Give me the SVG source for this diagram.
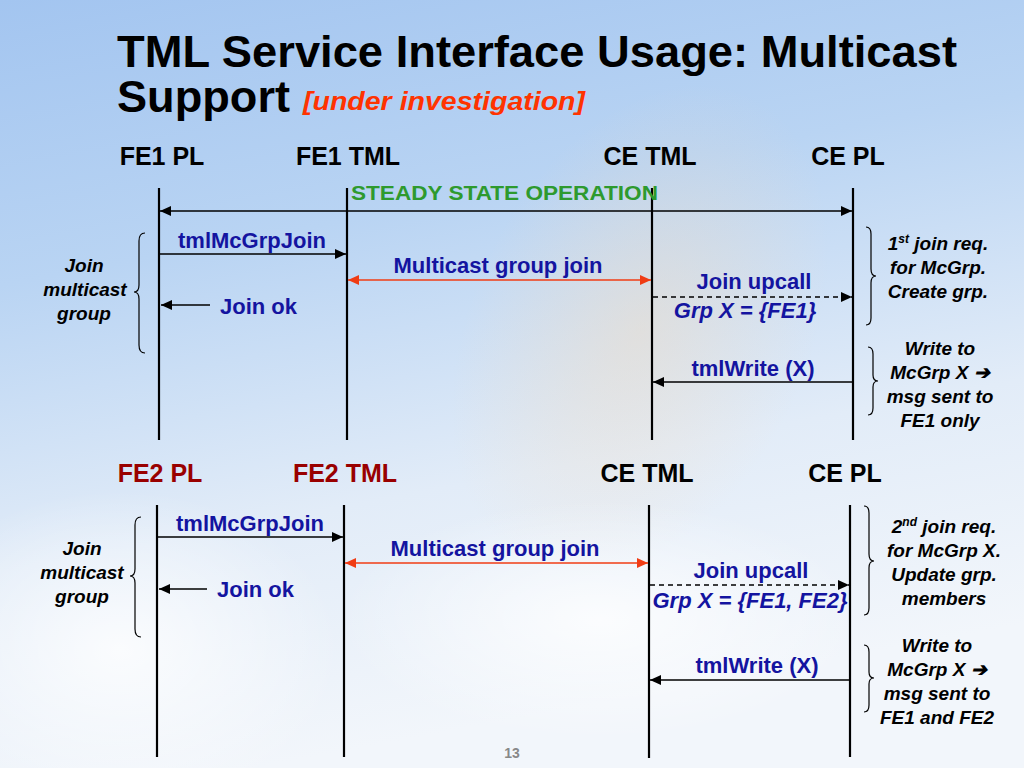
<svg xmlns="http://www.w3.org/2000/svg" width="1024" height="768" viewBox="0 0 1024 768">
<defs>
<linearGradient id="bg" x1="0" y1="0" x2="0.25" y2="1">
<stop offset="0" stop-color="#a3c5f0"/>
<stop offset="0.35" stop-color="#b9d4f3"/>
<stop offset="0.7" stop-color="#e2ecf8"/>
<stop offset="1" stop-color="#f2f6fb"/>
</linearGradient>
<radialGradient id="warm" cx="0.5" cy="0.5" r="0.5">
<stop offset="0" stop-color="#f3dcc0" stop-opacity="0.45"/>
<stop offset="1" stop-color="#f3dcc0" stop-opacity="0"/>
</radialGradient>
<radialGradient id="white" cx="0.5" cy="0.5" r="0.5">
<stop offset="0" stop-color="#ffffff" stop-opacity="0.8"/>
<stop offset="1" stop-color="#ffffff" stop-opacity="0"/>
</radialGradient>
<marker id="ah" markerUnits="userSpaceOnUse" markerWidth="12" markerHeight="10" refX="11" refY="5" orient="auto-start-reverse">
<path d="M0,0 L11,5 L0,10 Z" fill="#000"/>
</marker>
<marker id="ahr" markerUnits="userSpaceOnUse" markerWidth="12" markerHeight="10" refX="11" refY="5" orient="auto-start-reverse">
<path d="M0,0 L11,5 L0,10 Z" fill="#f03c14"/>
</marker>
<style>
.life{stroke:#000;stroke-width:2.2;fill:none}
.msg{stroke:#000;stroke-width:1.4;fill:none;marker-end:url(#ah)}
.dash{stroke:#000;stroke-width:1.4;fill:none;stroke-dasharray:5,4;marker-end:url(#ah)}
.red{stroke:#f03c14;stroke-width:1.6;fill:none;marker-end:url(#ahr);marker-start:url(#ahr)}
.both{stroke:#000;stroke-width:1.4;fill:none;marker-end:url(#ah);marker-start:url(#ah)}
.brace{stroke:#000;stroke-width:1.2;fill:none}
text{font-family:"Liberation Sans",Arial,sans-serif;font-weight:bold}
.title{font-size:44px;fill:#000}
.hdr{font-size:25px;fill:#000;text-anchor:middle}
.hdr2{font-size:25px;fill:#990000;text-anchor:middle}
.lbl{font-size:22px;fill:#1414a0}
.lblc{font-size:22px;fill:#1414a0;text-anchor:middle}
.lbli{font-size:22px;fill:#1414a0;text-anchor:middle;font-style:italic}
.note{font-size:19px;fill:#000;font-style:italic;text-anchor:middle}
</style>
</defs>
<rect x="0" y="0" width="1024" height="768" fill="url(#bg)"/>
<ellipse cx="640" cy="330" rx="170" ry="260" fill="url(#warm)" transform="rotate(25 640 330)"/>
<ellipse cx="120" cy="650" rx="220" ry="160" fill="url(#white)"/>
<ellipse cx="600" cy="620" rx="260" ry="120" fill="url(#white)"/>

<g id="title">
<text class="title" x="117" y="67" textLength="840" lengthAdjust="spacingAndGlyphs">TML Service Interface Usage: Multicast</text>
<text class="title" x="117" y="112" textLength="173" lengthAdjust="spacingAndGlyphs">Support</text>
<text x="303" y="110" font-size="26" font-style="italic" fill="#ff3300" textLength="282" lengthAdjust="spacingAndGlyphs">[under investigation]</text>
</g>

<g id="fe1pl"><text class="hdr" x="162" y="165">FE1 PL</text><line class="life" x1="159" y1="188" x2="159" y2="440"/></g>
<g id="fe1tml"><text class="hdr" x="348" y="165">FE1 TML</text><line class="life" x1="347" y1="188" x2="347" y2="440"/></g>
<g id="cetml1"><text class="hdr" x="650" y="165">CE TML</text><line class="life" x1="652" y1="188" x2="652" y2="440"/></g>
<g id="cepl1"><text class="hdr" x="848" y="165">CE PL</text><line class="life" x1="853" y1="188" x2="853" y2="440"/></g>

<g id="fe2pl"><text class="hdr2" x="160" y="482">FE2 PL</text><line class="life" x1="157" y1="505" x2="157" y2="757"/></g>
<g id="fe2tml"><text class="hdr2" x="345" y="482">FE2 TML</text><line class="life" x1="344" y1="505" x2="344" y2="757"/></g>
<g id="cetml2"><text class="hdr" x="647" y="482">CE TML</text><line class="life" x1="649" y1="505" x2="649" y2="758"/></g>
<g id="cepl2"><text class="hdr" x="845" y="482">CE PL</text><line class="life" x1="850" y1="505" x2="850" y2="757"/></g>

<g id="connectors">
<line class="both" x1="160" y1="211" x2="852" y2="211"/>
<line class="msg" x1="160" y1="254" x2="346" y2="254"/>
<line class="red" x1="348" y1="280" x2="651" y2="280"/>
<line class="msg" x1="210" y1="305" x2="161" y2="305"/>
<line class="dash" x1="653" y1="297" x2="852" y2="297"/>
<line class="msg" x1="852" y1="382" x2="653" y2="382"/>

<line class="msg" x1="158" y1="537" x2="343" y2="537"/>
<line class="red" x1="345" y1="563" x2="648" y2="563"/>
<line class="msg" x1="207" y1="589" x2="159" y2="589"/>
<line class="dash" x1="650" y1="585" x2="849" y2="585"/>
<line class="msg" x1="849" y1="680" x2="650" y2="680"/>
</g>

<g id="labels1">
<text x="351" y="200" font-size="21" fill="#2e9a2e" textLength="307" lengthAdjust="spacingAndGlyphs">STEADY STATE OPERATION</text>
<text class="lblc" x="252" y="248">tmlMcGrpJoin</text>
<text class="lblc" x="498" y="273">Multicast group join</text>
<text class="lbl" x="220" y="314">Join ok</text>
<text class="lblc" x="754" y="289">Join upcall</text>
<text class="lbli" x="745" y="318">Grp X = {FE1}</text>
<text class="lblc" x="753" y="376">tmlWrite (X)</text>
</g>

<g id="labels2">
<text class="lblc" x="250" y="531">tmlMcGrpJoin</text>
<text class="lblc" x="495" y="556">Multicast group join</text>
<text class="lbl" x="217" y="597">Join ok</text>
<text class="lblc" x="751" y="578">Join upcall</text>
<text class="lbli" x="750" y="608">Grp X = {FE1, FE2}</text>
<text class="lblc" x="757" y="673">tmlWrite (X)</text>
</g>

<g id="note-join1">
<path class="brace" d="M145,233 Q139,233 139,241 L139,285 Q139,292 134,292 Q139,292 139,299 L139,345 Q139,353 145,353"/>
<text class="note" x="84" y="272">Join</text>
<text class="note" x="85" y="296">multicast</text>
<text class="note" x="84" y="320">group</text>
</g>
<g id="note-first">
<path class="brace" d="M866,227 Q871,227 871,234 L871,269 Q871,276 876,276 Q871,276 871,283 L871,318 Q871,325 866,325"/>
<text class="note" x="938" y="250">1<tspan font-size="12" dy="-7">st</tspan><tspan dy="7"> join req.</tspan></text>
<text class="note" x="938" y="274">for McGrp.</text>
<text class="note" x="938" y="298">Create grp.</text>
</g>
<g id="note-write1">
<path class="brace" d="M868,347 Q873,347 873,354 L873,375 Q873,381 878,381 Q873,381 873,387 L873,408 Q873,415 868,415"/>
<text class="note" x="940" y="355">Write to</text>
<text class="note" x="940" y="379">McGrp X ➔</text>
<text class="note" x="940" y="403">msg sent to</text>
<text class="note" x="940" y="427">FE1 only</text>
</g>

<g id="note-join2">
<path class="brace" d="M141,517 Q135,517 135,525 L135,569 Q135,576 130,576 Q135,576 135,583 L135,629 Q135,637 141,637"/>
<text class="note" x="82" y="555">Join</text>
<text class="note" x="82" y="579">multicast</text>
<text class="note" x="82" y="603">group</text>
</g>
<g id="note-second">
<path class="brace" d="M864,506 Q869,506 869,513 L869,554 Q869,561 874,561 Q869,561 869,568 L869,608 Q869,615 864,615"/>
<text class="note" x="944" y="533">2<tspan font-size="12" dy="-7">nd</tspan><tspan dy="7"> join req.</tspan></text>
<text class="note" x="944" y="557">for McGrp X.</text>
<text class="note" x="944" y="581">Update grp.</text>
<text class="note" x="944" y="605">members</text>
</g>
<g id="note-write2">
<path class="brace" d="M864,645 Q869,645 869,652 L869,672 Q869,678 874,678 Q869,678 869,684 L869,705 Q869,712 864,712"/>
<text class="note" x="937" y="652">Write to</text>
<text class="note" x="937" y="676">McGrp X ➔</text>
<text class="note" x="937" y="700">msg sent to</text>
<text class="note" x="937" y="724">FE1 and FE2</text>
</g>

<text x="512" y="758" font-size="14" font-weight="normal" fill="#888" text-anchor="middle">13</text>
</svg>
